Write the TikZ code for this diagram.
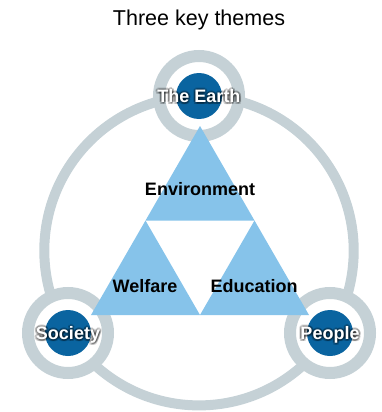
\documentclass[tikz,border=0pt]{standalone}
\usepackage{fontspec}
\setmainfont{Liberation Sans}
\usetikzlibrary{calc}

\definecolor{ringgrey}{HTML}{C5D1D6}
\definecolor{hubblue}{HTML}{0A64A0}
\definecolor{triblue}{HTML}{86C3EA}

\begin{document}
\begin{tikzpicture}[x=1pt,y=-1pt,
    hub/.style={circle, fill=hubblue, minimum size=46pt, inner sep=0pt},
    hublabel/.style={font=\fontsize{18}{20}\selectfont\bfseries, text=white,
        inner sep=0pt, text height=13pt, text depth=0pt},
    hubglow/.style={hublabel, text=black, opacity=0.18},
    theme/.style={font=\fontsize{18}{20}\selectfont\bfseries, text=black,
        inner sep=0pt, text height=13pt, text depth=0pt}]

\useasboundingbox (0,0) rectangle (381,412);

% Title
\node[font=\fontsize{21.5}{24}\selectfont, inner sep=0pt, text height=15.5pt, text depth=0pt] (title) at (199,18) {Three key themes};

% Big ring through the three hubs
\coordinate (C) at (199,250.7);
\draw[ringgrey, line width=10pt] (C) circle (154.7);

% Hub positions
\coordinate (earth) at (199,96);
\coordinate (society) at (68,333);
\coordinate (people) at (330,333);

% Rings and discs round each hub
\foreach \h in {earth,society,people}
{
    \fill[white] (\h) circle (40);
    \draw[ringgrey, line width=12pt] (\h) circle (40);
    \node[hub] (\h-disc) at (\h) {};
}

% Corners of the triangles
\coordinate (apex) at (200,126);
\coordinate (ml) at (145.5,220.5);
\coordinate (mr) at (254.5,220.5);
\coordinate (bl) at (91,315);
\coordinate (bm) at (200,315);
\coordinate (br) at (309,315);

% Three triangles
\fill[triblue] (apex) -- (mr) -- (ml) -- cycle;
\fill[triblue] (ml) -- (bm) -- (bl) -- cycle;
\fill[triblue] (mr) -- (br) -- (bm) -- cycle;

% Theme labels
\node[theme] (environment) at (200,189) {Environment};
\node[theme] (welfare) at (145,286) {Welfare};
\node[theme] (education) at (254,286) {Education};

% Hub labels with a soft dark glow
\foreach \h/\txt in {earth/The Earth,society/Society,people/People}
{
    \foreach \dx/\dy in {-2/0,2/0,0/-2,0/2,-1.5/-1.5,1.5/1.5,-1.5/1.5,1.5/-1.5,1/1}
    {
        \node[hubglow] at ($(\h)+(\dx,\dy)$) {\txt};
    }
    \node[hublabel] (\h-label) at (\h) {\txt};
}

\end{tikzpicture}
\end{document}
